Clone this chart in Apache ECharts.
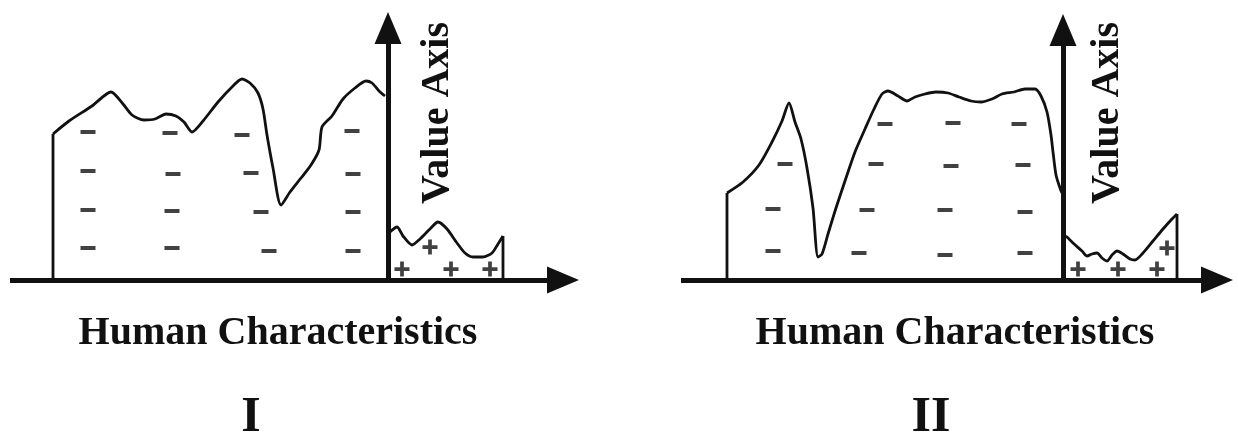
<!DOCTYPE html>
<html>
<head>
<meta charset="utf-8">
<script src="https://cdn.jsdelivr.net/npm/echarts@6/dist/echarts.min.js"></script>
<style>
  html, body { margin: 0; padding: 0; background: #ffffff; }
  #chart { width: 1238px; height: 434px; }
</style>
</head>
<body>
<div id="chart"></div>
<script>
// ---- Panel I: outline of the negative region (left of the value axis) ----
const negCurveI = [
  [-335, 146], [-319, 159], [-296, 174], [-277, 188], [-265, 176], [-256, 165],
  [-244, 160], [-233, 161], [-222, 166], [-212, 164], [-204, 158], [-196, 148],
  [-185, 159], [-170, 178], [-155, 194], [-146, 201], [-138, 197], [-130, 187],
  [-125, 171], [-121, 145], [-115, 112], [-107, 75], [-98, 88], [-87, 102],
  [-77, 115], [-69, 130], [-66, 153], [-56, 164], [-45, 181], [-33, 192],
  [-22, 199], [-16, 197], [-9, 189], [-3, 184]
];
// Panel I: outline of the positive region (right of the value axis)
const posCurveI = [
  [2, 48], [9, 53], [15, 44], [24, 35], [32, 41], [42, 51], [50, 58], [59, 51],
  [69, 37], [77, 27], [85, 23], [95, 23], [104, 27], [110, 36], [115, 44]
];
const minusI = [
  [-300, 148], [-218, 147], [-146, 145], [-36, 149],
  [-300, 109], [-215, 106], [-137, 107], [-35, 106],
  [-300, 70], [-216, 69], [-127, 68], [-35, 68],
  [-300, 32], [-216, 32], [-119, 29], [-35, 29]
];
const plusI = [[42, 33], [14, 11], [63, 11], [102, 11]];

// ---- Panel II ----
const negCurveII = [
  [-336, 87], [-320, 98], [-304, 115], [-291, 138], [-281, 159], [-274, 177],
  [-268, 158], [-262, 141], [-256, 112], [-250, 72], [-245, 23], [-241, 26],
  [-235, 46], [-227, 72], [-217, 102], [-208, 128], [-198, 151], [-189, 171],
  [-181, 186], [-175, 189], [-165, 184], [-156, 179], [-148, 183], [-138, 186],
  [-127, 188], [-115, 187], [-104, 183], [-92, 179], [-82, 178], [-71, 181],
  [-61, 186], [-49, 188], [-38, 191], [-28, 191], [-22, 184], [-16, 168],
  [-12, 145], [-10, 128], [-7, 105], [-3, 92], [-1, 87]
];
const posCurveII = [
  [2, 44], [4, 43], [10, 37], [19, 29], [24, 24], [29, 26], [34, 27], [39, 22],
  [44, 19], [49, 25], [54, 29], [60, 26], [67, 21], [72, 20], [80, 27],
  [90, 39], [100, 51], [109, 61], [114, 66]
];
const minusII = [
  [-178, 156], [-110, 157], [-44, 156],
  [-278, 116], [-187, 116], [-112, 114], [-40, 115],
  [-290, 71], [-196, 70], [-118, 70], [-38, 68],
  [-290, 29], [-204, 27], [-118, 25], [-38, 27]
];
const plusII = [[15, 11], [55, 11], [94, 11], [104, 32]];

// ---- Texts ----
const valueAxisTitle = 'Value Axis';
const categoryTitle = 'Human Characteristics';
const panelNames = ['I', 'II'];

const INK = '#111111';
const SERIF = '"Liberation Serif", "Times New Roman", Times, serif';
// plus sign drawn as a filled cross
const PLUS = 'path://M5.25,0H8.75V5.25H14V8.75H8.75V14H5.25V8.75H0V5.25H5.25Z';

function axisLine() {
  return {
    show: true,
    onZero: true,
    symbol: ['none', 'triangle'],
    symbolSize: [27, 32],
    lineStyle: { color: INK, width: 5, cap: 'butt' }
  };
}
function hiddenParts() {
  return { axisTick: { show: false }, axisLabel: { show: false }, splitLine: { show: false } };
}
function xAxisFor(grid, min, max) {
  return Object.assign({ type: 'value', gridIndex: grid, min: min, max: max, axisLine: axisLine() }, hiddenParts());
}
function yAxisFor(grid, max) {
  return Object.assign({ type: 'value', gridIndex: grid, min: 0, max: max, axisLine: axisLine() }, hiddenParts());
}

function panelSeries(idx, neg, pos, minus, plus) {
  const lineStyle = { color: INK, width: 2.8 };
  const common = { xAxisIndex: idx, yAxisIndex: idx, animation: false, silent: true };
  const first = neg[0];
  const last = pos[pos.length - 1];
  return [
    Object.assign({ type: 'line', data: neg, symbol: 'none', smooth: 0.25, lineStyle: lineStyle, z: 3 }, common),
    Object.assign({ type: 'line', data: [[first[0], 0], first], symbol: 'none', lineStyle: lineStyle, z: 3 }, common),
    Object.assign({ type: 'line', data: pos, symbol: 'none', smooth: 0.25, lineStyle: lineStyle, z: 3 }, common),
    Object.assign({ type: 'line', data: [last, [last[0], 0]], symbol: 'none', lineStyle: lineStyle, z: 3 }, common),
    Object.assign({ type: 'scatter', data: minus, symbol: 'rect', symbolSize: [15, 4], itemStyle: { color: INK }, z: 4 }, common),
    Object.assign({ type: 'scatter', data: plus, symbol: PLUS, symbolSize: [15, 15], itemStyle: { color: INK }, z: 4 }, common)
  ];
}

function label(text, x, y, size, rotate) {
  return {
    type: 'text', x: x, y: y, rotation: rotate ? Math.PI / 2 : 0,
    silent: true,
    style: {
      text: text, fill: INK,
      font: 'bold ' + size + 'px ' + SERIF,
      textAlign: 'center', textVerticalAlign: 'middle'
    }
  };
}

const chart = echarts.init(document.getElementById('chart'), null, { renderer: 'canvas' });
chart.setOption({
  backgroundColor: '#ffffff',
  animation: false,
  grid: [
    { left: 10, right: 675, top: 28, bottom: 154 },
    { left: 681, right: 21, top: 30, bottom: 154 }
  ],
  xAxis: [xAxisFor(0, -378, 175), xAxisFor(1, -382, 154)],
  yAxis: [yAxisFor(0, 252), yAxisFor(1, 250)],
  series: [].concat(
    panelSeries(0, negCurveI, posCurveI, minusI, plusI),
    panelSeries(1, negCurveII, posCurveII, minusII, plusII)
  ),
  graphic: [
    label(valueAxisTitle, 438, 113, 40, true),
    label(valueAxisTitle, 1108, 113, 40, true),
    label(categoryTitle, 278, 334, 40, false),
    label(categoryTitle, 955, 334, 40, false),
    label(panelNames[0], 251, 418, 50, false),
    label(panelNames[1], 931, 418, 50, false)
  ]
});
</script>
</body>
</html>
